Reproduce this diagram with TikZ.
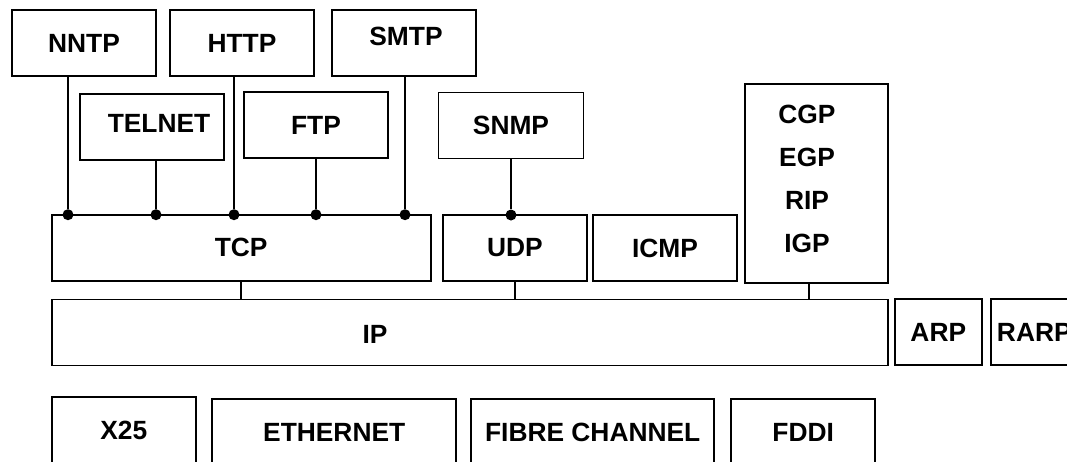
\documentclass[tikz,border=0pt]{standalone}
\usepackage{fontspec}
\setmainfont{Liberation Sans}

\tikzset{
  box/.style={draw, line width=1.1pt, inner sep=0pt, outer sep=0pt,
    minimum height=1.32cm, font=\bfseries\fontsize{15}{18}\selectfont},
  lbl/.style={inner sep=0pt, font=\bfseries\fontsize{15}{18}\selectfont},
  link/.style={line width=1.1pt},
  dot/.style={circle, fill, inner sep=0pt, minimum size=0.22cm}
}

\begin{document}
\begin{tikzpicture}[x=0.02cm, y=-0.02cm]
  \useasboundingbox (0,0) rectangle (1067,461);
  \clip (0,0) rectangle (1067,461);

  % applications
  \node[box, minimum width=2.88cm] (nntp) at (84,43) {NNTP};
  \node[box, minimum width=2.88cm] (http) at (242,43) {HTTP};
  \node[box, minimum width=2.88cm] (smtp) at (404,43) {};
  \node[lbl] (smtptext) at (406,36) {SMTP};
  \node[box, minimum width=2.88cm] (telnet) at (152,127) {};
  \node[lbl] (telnettext) at (159,123) {TELNET};
  \node[box, minimum width=2.88cm] (ftp) at (316,125) {FTP};
  \node[box, minimum width=2.9cm] (snmp) at (511,125.5) {SNMP};

  % transport
  \node[box, minimum width=7.58cm] (tcp) at (241.2,247.7) {TCP};
  \node[box, minimum width=2.88cm] (udp) at (515,248) {UDP};
  \node[box, minimum width=2.88cm] (icmp) at (665,248) {ICMP};
  \node[box, minimum width=2.854cm, minimum height=3.98cm] (routing) at (816.3,183.5) {};
  \foreach \p [count=\i] in {CGP,EGP,RIP,IGP}
    \node[lbl] (routing\i) at (807,{71+43*\i}) {\p};

  % internet
  \node[box, minimum width=16.72cm] (ip) at (469.7,332.5) {};
  \node[lbl] (iptext) at (375,334.5) {IP};
  \node[box, minimum width=1.734cm] (arp) at (938.3,332) {ARP};
  \node[box, minimum width=1.734cm] (rarp) at (1034.3,332) {RARP};

  % networks
  \node[box, minimum width=2.886cm] (x25) at (123.8,430) {X25};
  \node[box, minimum width=4.89cm] (ethernet) at (334.2,432.3) {ETHERNET};
  \node[box, minimum width=4.87cm] (fibre) at (592.7,432.3) {FIBRE CHANNEL};
  \node[box, minimum width=2.89cm] (fddi) at (803.2,432.3) {FDDI};

  % ports on TCP and UDP
  \foreach \x/\n in {68/1, 156/2, 234/3, 316/4, 405/5}
    \node[dot] (tcpdot\n) at (\x,214.7) {};
  \node[dot] (udpdot) at (511,215) {};

  \draw[link] (tcpdot1) -- (tcpdot1 |- nntp.south);
  \draw[link] (tcpdot2) -- (tcpdot2 |- telnet.south);
  \draw[link] (tcpdot3) -- (tcpdot3 |- http.south);
  \draw[link] (tcpdot4) -- (tcpdot4 |- ftp.south);
  \draw[link] (tcpdot5) -- (tcpdot5 |- smtp.south);
  \draw[link] (udpdot) -- (udpdot |- snmp.south);

  % down to IP
  \coordinate (routingfoot) at ([xshift=-0.146cm]routing.south);
  \draw[link] (tcp.south) -- (tcp.south |- ip.north);
  \draw[link] (udp.south) -- (udp.south |- ip.north);
  \draw[link] (routingfoot) -- (routingfoot |- ip.north);
\end{tikzpicture}
\end{document}
